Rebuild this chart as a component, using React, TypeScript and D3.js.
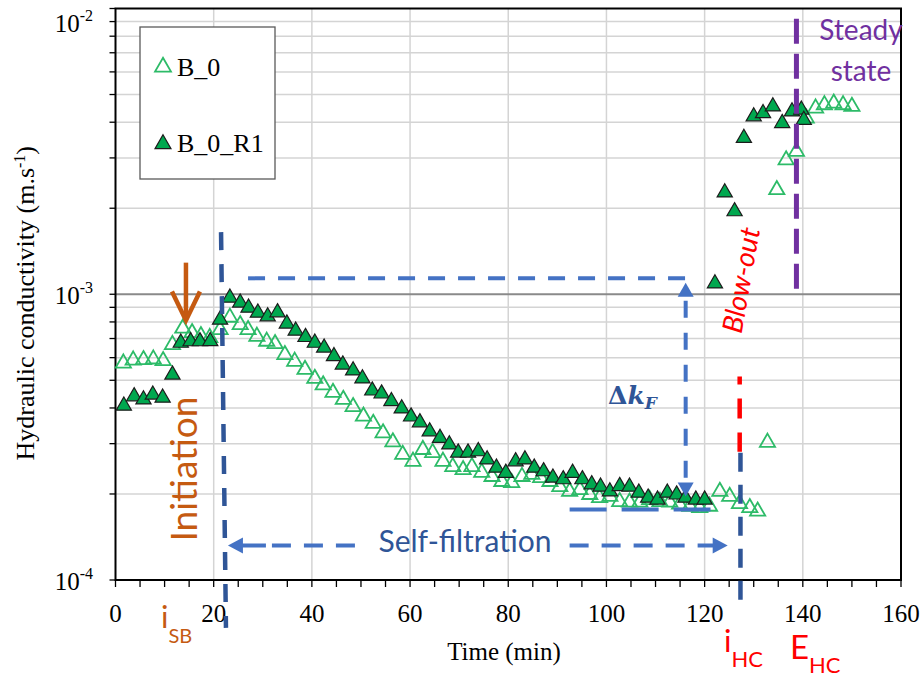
import React from "react";
import * as d3 from "d3";

// ---------- data (time in min, hydraulic conductivity in m/s) ----------
const timeB0 = [
  1.6, 3.6, 5.7, 7.7, 9.7, 11.6, 13.7, 15.6, 17.4, 19.2,
  21.3, 23.3, 25.4, 27.0, 28.8, 30.8, 32.5, 34.5, 36.5, 38.6,
  40.6, 42.3, 44.3, 46.4, 48.4, 50.5, 52.5, 54.5, 56.5, 58.5,
  60.6, 62.6, 64.6, 66.7, 68.7, 70.8, 72.6, 74.6, 76.7, 78.7,
  80.7, 82.8, 84.8, 86.6, 88.5, 90.5, 92.5, 94.6, 96.6, 98.6,
  100.7, 102.7, 104.7, 106.8, 108.8, 110.9, 112.9, 114.9, 117.0, 119.0,
  121.0, 123.1, 125.1, 127.1, 129.2, 130.8, 132.8, 134.7, 136.6, 138.7,
  140.7, 142.6, 144.4, 146.3, 148.2, 150.0,
];
const kB0 = [
  5.74e-4, 5.88e-4, 5.9e-4, 5.93e-4, 5.85e-4, 6.66e-4, 7.6e-4, 7.33e-4, 7.16e-4, 7.05e-4,
  7.51e-4, 8.3e-4, 7.82e-4, 7.51e-4, 7.12e-4, 6.84e-4, 6.71e-4, 6.14e-4, 5.82e-4, 5.45e-4,
  5.07e-4, 4.81e-4, 4.53e-4, 4.28e-4, 4.04e-4, 3.74e-4, 3.53e-4, 3.27e-4, 3.04e-4, 2.75e-4,
  2.6e-4, 2.86e-4, 2.79e-4, 2.6e-4, 2.49e-4, 2.43e-4, 2.49e-4, 2.38e-4, 2.3e-4, 2.21e-4,
  2.19e-4, 2.3e-4, 2.34e-4, 2.28e-4, 2.21e-4, 2.12e-4, 2.04e-4, 2.07e-4, 1.99e-4, 1.94e-4,
  1.96e-4, 1.88e-4, 1.87e-4, 1.87e-4, 1.91e-4, 1.88e-4, 1.87e-4, 1.84e-4, 1.81e-4, 1.79e-4,
  1.81e-4, 2.04e-4, 1.96e-4, 1.85e-4, 1.79e-4, 1.74e-4, 3.03e-4, 2.32e-3, 2.95e-3, 3.16e-3,
  4.13e-3, 4.48e-3, 4.6e-3, 4.66e-3, 4.6e-3, 4.54e-3,
];
const timeR1 = [
  1.7, 3.8, 5.7, 7.6, 9.6, 11.6, 13.3, 15.3, 17.2, 19.3,
  21.3, 23.3, 25.4, 27.1, 29.0, 31.0, 33.0, 34.9, 36.7, 38.7,
  40.6, 42.5, 44.5, 46.3, 48.4, 50.3, 52.3, 54.2, 56.2, 58.3,
  60.2, 62.0, 64.0, 66.1, 68.0, 69.8, 71.8, 73.9, 75.7, 77.6,
  79.5, 81.5, 83.4, 85.3, 87.2, 89.1, 91.2, 93.1, 95.1, 97.0,
  98.8, 100.7, 102.7, 104.7, 106.6, 108.5, 110.4, 112.4, 114.3, 116.1,
  118.2, 120.0, 122.1, 124.1, 126.1, 128.0, 130.0, 131.9, 133.9, 135.8,
  137.8, 139.7, 140.2,
];
const kR1 = [
  4.07e-4, 4.39e-4, 4.28e-4, 4.45e-4, 4.34e-4, 5.23e-4, 6.76e-4, 6.84e-4, 6.84e-4, 6.85e-4,
  8.14e-4, 9.72e-4, 9.34e-4, 8.97e-4, 8.61e-4, 8.36e-4, 8.64e-4, 7.89e-4, 7.45e-4, 7.08e-4,
  6.76e-4, 6.5e-4, 6.07e-4, 5.67e-4, 5.41e-4, 5.07e-4, 4.6e-4, 4.49e-4, 4.22e-4, 3.98e-4,
  3.73e-4, 3.56e-4, 3.31e-4, 3.14e-4, 2.98e-4, 2.79e-4, 2.79e-4, 2.82e-4, 2.64e-4, 2.47e-4,
  2.37e-4, 2.6e-4, 2.64e-4, 2.47e-4, 2.4e-4, 2.28e-4, 2.25e-4, 2.37e-4, 2.25e-4, 2.16e-4,
  2.12e-4, 2.04e-4, 2.13e-4, 2.12e-4, 2.02e-4, 1.94e-4, 1.91e-4, 2.02e-4, 1.99e-4, 1.94e-4,
  1.91e-4, 1.91e-4, 1.09e-3, 2.27e-3, 1.95e-3, 3.52e-3, 4.19e-3, 4.3e-3, 4.54e-3, 3.97e-3,
  4.36e-3, 4.42e-3, 4.07e-3,
];
const xTickValues = [0, 20, 40, 60, 80, 100, 120, 140, 160];
const yDecades = [-4, -3, -2];
const seriesNames = ["B_0", "B_0_R1"];

const HOLLOW = "#2dbb68";
const FILL = "#00a84f";
const DARK_BLUE = "#2F5597";
const LIGHT_BLUE = "#4472C4";
const ORANGE = "#C55A11";
const PURPLE = "#7030A0";
const RED = "#FF0000";
const SERIF = "Liberation Serif";
const SANS = "Lato";

function head(tx: number, ty: number, dir: string, len = 15, half = 8): string {
  if (dir === "up") return `${tx},${ty} ${tx - half},${ty + len} ${tx + half},${ty + len}`;
  if (dir === "down") return `${tx},${ty} ${tx - half},${ty - len} ${tx + half},${ty - len}`;
  if (dir === "left") return `${tx},${ty} ${tx + len},${ty - half} ${tx + len},${ty + half}`;
  return `${tx},${ty} ${tx - len},${ty - half} ${tx - len},${ty + half}`;
}

export default function App() {
  const x = d3.scaleLinear().domain([0, 160]).range([115.5, 901]);
  const y = d3.scaleLog().domain([1e-4, 1e-2]).range([580, 8.5]);
  const tri = d3.symbol(d3.symbolTriangle, 100)() as string;
  const triLeg = d3.symbol(d3.symbolTriangle, 110)() as string;

  const yMinor: number[] = [];
  for (const d of [-4, -3]) for (let n = 1; n <= 9; n++) yMinor.push(n * Math.pow(10, d));
  yMinor.push(1e-2);
  const xMinor = d3.range(0, 161, 5);
  const xGrid = xTickValues.filter((v) => v > 0 && v < 160);

  const [x0, x1] = x.range();
  const [yb, yt] = y.range();

  // annotation geometry in data units
  const kTop = 1.137e-3;
  const kArrowTop = 1.097e-3;
  const kArrowBot = 1.96e-4;
  const kBase = 1.764e-4;
  const kSelf = 1.32e-4;

  return (
    <svg
      width={924}
      height={677}
      style={{ position: "absolute", left: 0, top: 0, background: "#fff" }}
    >
      <rect x={0} y={0} width={924} height={677} fill="#fff" />
      {/* grid */}
      {xGrid.map((v) => (
        <line key={"gx" + v} x1={x(v)} x2={x(v)} y1={yt} y2={yb} stroke="#d4d4d4" strokeWidth={1.5} />
      ))}
      {yMinor
        .filter((v) => v > 1.01e-4 && v < 0.99e-2)
        .map((v, i) => {
          const major = Math.abs(v - 1e-3) < 1e-9;
          return (
            <line
              key={"gy" + i}
              x1={x0}
              x2={x1}
              y1={y(v)}
              y2={y(v)}
              stroke={major ? "#8a8a8a" : "#d4d4d4"}
              strokeWidth={major ? 2 : 1.5}
            />
          );
        })}

      {/* axis ticks */}
      {yMinor.map((v, i) => (
        <line key={"ty" + i} x1={x0 - 6} x2={x0} y1={y(v)} y2={y(v)} stroke="#000" strokeWidth={1.3} />
      ))}
      {xMinor.map((v) => (
        <line key={"tx" + v} x1={x(v)} x2={x(v)} y1={yb} y2={yb + 7} stroke="#000" strokeWidth={1.3} />
      ))}
      <rect x={x0} y={yt} width={x1 - x0} height={yb - yt} fill="none" stroke="#000" strokeWidth={2} />

      {/* tick labels */}
      {xTickValues.map((v) => (
        <text key={"lx" + v} x={x(v)} y={622} textAnchor="middle" fontFamily={SERIF} fontSize={25} fill="#000">
          {v}
        </text>
      ))}
      {yDecades.map((d) => {
        const base = d === -2 ? 32 : y(Math.pow(10, d)) + 10;
        return (
          <text key={"ly" + d} x={93} y={base} textAnchor="end" fontFamily={SERIF} fontSize={25} fill="#000">
            <tspan>10</tspan>
            <tspan dy={-11} fontSize={16}>{String(d)}</tspan>
          </text>
        );
      })}

      {/* axis titles */}
      <text x={504} y={660} textAnchor="middle" fontFamily={SERIF} fontSize={25} fill="#000">
        Time (min)
      </text>
      <text
        transform="translate(34,146) rotate(-90)"
        textAnchor="end"
        fontFamily={SERIF}
        fontSize={26}
        fill="#000"
      >
        <tspan>Hydraulic conductivity (m.s</tspan>
        <tspan dy={-9} fontSize={16}>-1</tspan>
        <tspan dy={9}>)</tspan>
      </text>

      {/* data: hollow series */}
      {timeB0.map((t, i) => (
        <path
          key={"b0" + i}
          d={tri}
          transform={`translate(${x(t)},${y(kB0[i])})`}
          fill="none"
          stroke={HOLLOW}
          strokeWidth={1.8}
        />
      ))}
      {/* data: filled series */}
      {timeR1.map((t, i) => (
        <path
          key={"r1" + i}
          d={tri}
          transform={`translate(${x(t)},${y(kR1[i])})`}
          fill={FILL}
          stroke="#1c1c1c"
          strokeWidth={1.2}
        />
      ))}

      {/* legend */}
      <rect x={140} y={27} width={135} height={152} fill="#fff" stroke="#5a5a5a" strokeWidth={1.3} />
      <path d={triLeg} transform="translate(163,67)" fill="none" stroke={HOLLOW} strokeWidth={1.8} />
      <text x={177} y={76} fontFamily={SERIF} fontSize={26} fill="#000">{seriesNames[0]}</text>
      <path d={triLeg} transform="translate(163,144)" fill={FILL} stroke="#1c1c1c" strokeWidth={1.2} />
      <text x={177} y={152} fontFamily={SERIF} fontSize={26} fill="#000">{seriesNames[1]}</text>

      {/* ---------- annotations ---------- */}
      {/* initiation arrow */}
      <line x1={x(14.35)} x2={x(14.35)} y1={y(1.29e-3)} y2={y(8.1e-4)} stroke={ORANGE} strokeWidth={4.5} />
      <polyline
        points={`${x(14.35) - 14},${y(8.1e-4) - 29} ${x(14.35)},${y(8.1e-4)} ${x(14.35) + 14},${y(8.1e-4) - 29}`}
        fill="none"
        stroke={ORANGE}
        strokeWidth={4.5}
      />
      <text
        transform="translate(197,469) rotate(-90)"
        textAnchor="middle"
        fontFamily={SANS}
        fontSize={37}
        fill={ORANGE}
      >
        Initiation
      </text>

      {/* left dark-blue dashed vertical */}
      <line
        x1={x(21.5)}
        y1={y(1.65e-3)}
        x2={x(22.5)}
        y2={y(6.8e-5)}
        stroke={DARK_BLUE}
        strokeWidth={4.5}
        strokeDasharray="18 14"
      />

      {/* top horizontal dashed */}
      <line
        x1={x(27)}
        x2={x(116.9)}
        y1={y(kTop)}
        y2={y(kTop)}
        stroke={LIGHT_BLUE}
        strokeWidth={4}
        strokeDasharray="17 13"
      />
      {/* delta k arrow */}
      <line
        x1={x(116.14)}
        x2={x(116.14)}
        y1={y(kArrowTop) + 18}
        y2={y(kArrowBot) - 14}
        stroke={LIGHT_BLUE}
        strokeWidth={4}
        strokeDasharray="17 15"
      />
      <polygon points={head(x(116.14), y(kArrowTop), "up", 14, 8)} fill={LIGHT_BLUE} />
      <polygon points={head(x(116.14), y(kArrowBot), "down", 14, 8)} fill={LIGHT_BLUE} />
      {/* base dashed line */}
      <line
        x1={x(92.5)}
        x2={x(121.2)}
        y1={y(kBase)}
        y2={y(kBase)}
        stroke={LIGHT_BLUE}
        strokeWidth={4}
        strokeDasharray="37 15"
      />
      <text x={608} y={404} fontFamily="DejaVu Serif" fontWeight="bold" fontSize={25} fill={DARK_BLUE}>
        <tspan>Δ</tspan>
        <tspan fontStyle="italic">k</tspan>
        <tspan fontStyle="italic" fontSize={17} dy={5}>F</tspan>
      </text>

      {/* self-filtration arrow */}
      <line
        x1={x(22.9) + 14}
        x2={x(49.8)}
        y1={y(kSelf)}
        y2={y(kSelf)}
        stroke={LIGHT_BLUE}
        strokeWidth={4}
        strokeDasharray="24 6 19 13 19 13 19 13"
      />
      <polygon points={head(x(22.9), y(kSelf), "left", 15, 8)} fill={LIGHT_BLUE} />
      <line
        x1={x(92.5)}
        x2={x(124.7) - 14}
        y1={y(kSelf)}
        y2={y(kSelf)}
        stroke={LIGHT_BLUE}
        strokeWidth={4}
        strokeDasharray="19 13"
      />
      <polygon points={head(x(124.7), y(kSelf), "right", 15, 8)} fill={LIGHT_BLUE} />
      <text x={465} y={552} textAnchor="middle" fontFamily={SANS} fontSize={30} fill={DARK_BLUE}>
        Self-filtration
      </text>

      {/* hydraulic collapse markers */}
      <line
        x1={x(127.14)}
        x2={x(127.14)}
        y1={y(5.15e-4)}
        y2={y(2.81e-4)}
        stroke={RED}
        strokeWidth={4.5}
        strokeDasharray="20 14"
        strokeDashoffset={12}
      />
      <line
        x1={x(127.3)}
        x2={x(127.3)}
        y1={y(2.79e-4)}
        y2={y(8.4e-5)}
        stroke={DARK_BLUE}
        strokeWidth={4.5}
        strokeDasharray="19 13"
      />
      <text
        transform="translate(741,280) rotate(-80)"
        textAnchor="middle"
        dy={10}
        fontFamily={SANS}
        fontStyle="italic"
        fontSize={28}
        fill={RED}
      >
        Blow-out
      </text>

      {/* steady state */}
      <line
        x1={x(138.7)}
        x2={x(138.7)}
        y1={y(9.2e-3)}
        y2={y(9.72e-4)}
        stroke={PURPLE}
        strokeWidth={5}
        strokeDasharray="25 10"
      />
      <text x={861} y={40} textAnchor="middle" fontFamily={SANS} fontSize={28} fill={PURPLE}>
        Steady
      </text>
      <text x={861} y={81} textAnchor="middle" fontFamily={SANS} fontSize={28} fill={PURPLE}>
        state
      </text>

      {/* event labels */}
      <text x={161} y={628} fontFamily={SANS} fontSize={31} fill={ORANGE}>
        i<tspan dy={15} fontSize={20}>SB</tspan>
      </text>
      <text x={724} y={652} fontFamily={SANS} fontSize={31} fill={RED}>
        i<tspan dy={15} fontSize={22}>HC</tspan>
      </text>
      <text x={790} y={659} fontFamily={SANS} fontSize={33} fill={RED}>
        E<tspan dy={14} fontSize={22}>HC</tspan>
      </text>
    </svg>
  );
}
